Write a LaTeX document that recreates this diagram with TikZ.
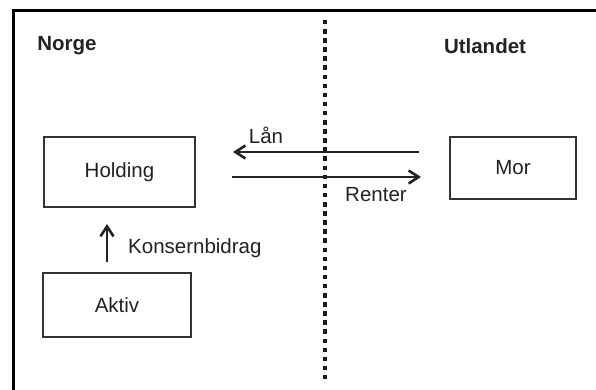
\documentclass[tikz,border=0pt]{standalone}
\usepackage{fontspec}
\setmainfont{Liberation Sans}
\usetikzlibrary{arrows.meta}
\definecolor{ink}{HTML}{222222}
\definecolor{edge}{HTML}{333333}
\tikzset{
  entity/.style={draw=edge, line width=2pt, minimum width=#1, inner sep=0pt, font=\fontsize{20.5}{24}\selectfont, text=ink},
  flow/.style={line width=2.8pt, draw=ink, -{Straight Barb[length=10pt, width=13pt, line width=2.6pt]}},
  lbl/.style={font=\fontsize{20.5}{24}\selectfont, text=ink, inner sep=0pt},
  region/.style={font=\bfseries\fontsize{20.5}{24}\selectfont, text=ink, inner sep=0pt},
}
\begin{document}
\begin{tikzpicture}[x=1pt, y=-1pt]
  \useasboundingbox (0,0) rectangle (596,390);
  \fill[white] (0,0) rectangle (596,390);

  % open frame: top and left rule
  \draw[line width=3pt, black] (13,390) -- (13,11) -- (596,11);

  % border between the two countries
  \draw[line width=4.5pt, black!90, dash pattern=on 4.5pt off 4.6pt] (325,20) -- (325,384);

  % region headings
  \node[region] (norge) at (67,46) {Norge};
  \node[region] (utland) at (485,46) {Utlandet};

  % companies
  \node[entity=151pt, minimum height=70pt] (holding) at (119.5,172) {Holding};
  \node[entity=126pt, minimum height=62pt] (mor) at (513,168) {Mor};
  \node[entity=148pt, minimum height=64pt] (aktiv) at (117,305) {Aktiv};

  % loan and interest flows
  \draw[flow, shorten <=30pt, shorten >=37pt] (mor.west |- 0,152) -- (holding.east |- 0,152);
  \draw[flow, shorten <=36pt, shorten >=28pt] (holding.east |- 0,177) -- (mor.west |- 0,177);
  \node[lbl] (laan) at (266,135) {Lån};
  \node[lbl] (renter) at (376,195) {Renter};

  % group contribution
  \draw[flow, shorten <=10pt, shorten >=16pt] (aktiv.north -| 107,0) -- (holding.south -| 107,0);
  \node[lbl, anchor=west] (bidrag) at (128,248) {Konsernbidrag};
\end{tikzpicture}
\end{document}
